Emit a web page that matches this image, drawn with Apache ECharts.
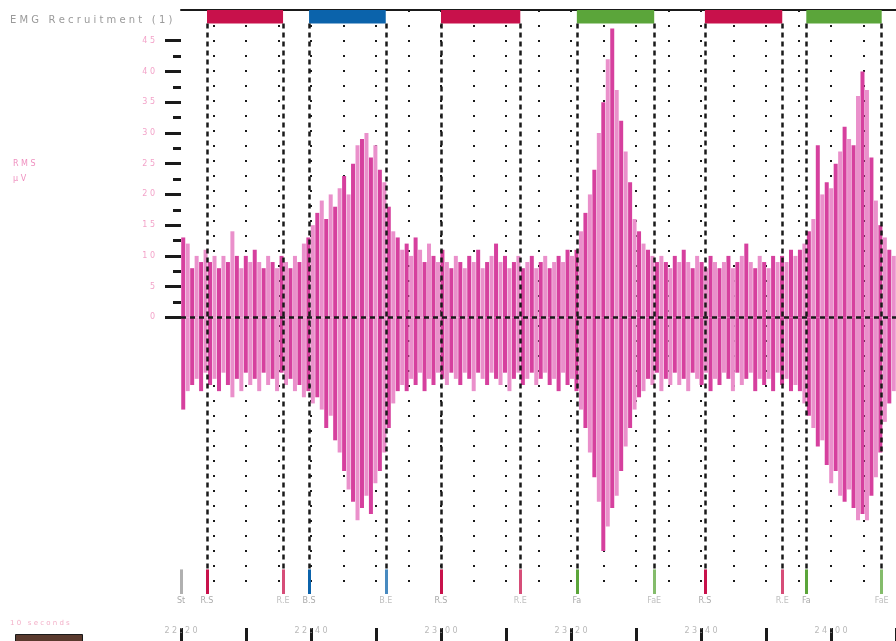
<!DOCTYPE html>
<html lang="en">
<head>
<meta charset="UTF-8">
<title>EMG Recruitment</title>
<style>
  html, body { margin: 0; padding: 0; background: #fff; }
  #chart { width: 896px; height: 641px; }
</style>
</head>
<body>
<div id="chart"></div>
<script src="https://cdn.jsdelivr.net/npm/echarts@6/dist/echarts.min.js"></script>
<script>
// EMG trace, one value per sample across the 110 s recording (uV)
var emgUp = [
  13, 12, 8, 10, 9, 11, 9, 10, 8, 10,
  9, 14, 10, 8, 10, 9, 11, 9, 8, 10,
  9, 8, 10, 9, 8, 10, 9, 12, 13, 15,
  17, 19, 16, 20, 18, 21, 23, 20, 25, 28,
  29, 30, 26, 28, 24, 22, 18, 14, 13, 11,
  12, 10, 13, 11, 9, 12, 10, 9, 11, 9,
  8, 10, 9, 8, 10, 9, 11, 8, 9, 10,
  12, 9, 10, 8, 9, 10, 8, 9, 10, 8,
  9, 10, 8, 9, 10, 9, 11, 10, 11, 14,
  17, 20, 24, 30, 35, 42, 47, 37, 32, 27,
  22, 16, 14, 12, 11, 10, 9, 10, 9, 8,
  10, 9, 11, 9, 8, 10, 9, 8, 10, 9,
  8, 9, 10, 8, 9, 10, 12, 9, 8, 10,
  9, 8, 10, 9, 10, 9, 11, 10, 11, 12,
  14, 16, 28, 20, 22, 21, 25, 27, 31, 29,
  28, 36, 40, 37, 26, 19, 15, 13, 11, 10
];
var emgDown = [
  -15, -12, -11, -10, -12, -9, -11, -10, -12, -9,
  -11, -13, -10, -12, -9, -11, -10, -12, -9, -11,
  -10, -12, -9, -11, -10, -12, -11, -13, -12, -14,
  -13, -15, -18, -16, -20, -22, -25, -28, -30, -33,
  -31, -29, -32, -27, -25, -22, -18, -14, -12, -11,
  -12, -10, -11, -9, -12, -10, -11, -9, -10, -11,
  -9, -10, -11, -9, -10, -12, -9, -10, -11, -9,
  -10, -11, -9, -12, -10, -9, -11, -10, -9, -11,
  -10, -9, -11, -10, -12, -9, -11, -10, -12, -15,
  -18, -22, -26, -30, -38, -34, -31, -29, -25, -21,
  -18, -15, -13, -12, -10, -11, -9, -12, -10, -11,
  -9, -11, -10, -12, -9, -10, -11, -9, -12, -10,
  -11, -9, -10, -12, -9, -11, -10, -9, -12, -10,
  -11, -10, -12, -9, -11, -10, -12, -11, -12, -14,
  -16, -18, -21, -20, -24, -27, -25, -29, -30, -28,
  -31, -33, -32, -33, -29, -26, -22, -17, -14, -12
];

// task blocks (s)
var blockStart = [4.0, 19.7, 40.0, 60.9, 80.6, 96.2];
var blockEnd = [15.7, 31.5, 52.2, 72.8, 92.5, 107.8];
var blockColor = ['#c8114b', '#0b63ab', '#c8114b', '#5ba53a', '#c8114b', '#5ba53a'];
var startLabels = ['R.S', 'B.S', 'R.S', 'Fa', 'R.S', 'Fa'];
var endLabels = ['R.E', 'B.E', 'R.E', 'FaE', 'R.E', 'FaE'];

var yTicks = [0, 5, 10, 15, 20, 25, 30, 35, 40, 45];
var yMinorTicks = [2.5, 7.5, 12.5, 17.5, 22.5, 27.5, 32.5, 37.5, 42.5];
var timeTicks = [0, 20, 40, 60, 80, 100];
var timeLabels = ['22:20', '22:40', '23:00', '23:20', '23:40', '24:00'];

var PINK = '#d6409e';
var PINK_LIGHT = '#ea90cb';
var INK = '#1a1a1a';

var chart = echarts.init(document.getElementById('chart'));

function spaced(s) {
  return String(s).split('').join(' ');
}

var areas = blockStart.map(function (s, i) {
  return [
    { xAxis: s, yAxis: 47.8, itemStyle: { color: blockColor[i] } },
    { xAxis: blockEnd[i], yAxis: 50 }
  ];
});

var dashLines = [];
blockStart.forEach(function (s, i) {
  [s, blockEnd[i]].forEach(function (t) {
    dashLines.push([{ coord: [t, 47.8] }, { coord: [t, -41] }]);
  });
});
dashLines.push([{ coord: [0, 0] }, { coord: [110, 0] }]);

var markers = [[
  { coord: [0, -41], lineStyle: { color: '#b0b0b0' }, label: { formatter: 'St' } },
  { coord: [0, -45] }
]];
blockStart.forEach(function (s, i) {
  markers.push([
    { coord: [s, -41], lineStyle: { color: blockColor[i] }, label: { formatter: startLabels[i] } },
    { coord: [s, -45] }
  ]);
  markers.push([
    { coord: [blockEnd[i], -41], lineStyle: { color: blockColor[i], opacity: 0.75 }, label: { formatter: endLabels[i] } },
    { coord: [blockEnd[i], -45] }
  ]);
});

function shade(dark, light) {
  return function (p) { return p.dataIndex % 2 ? light : dark; };
}

chart.setOption({
  animation: false,
  textStyle: { fontFamily: 'DejaVu Sans' },
  grid: { left: 181, right: 0, top: 10, bottom: 47 },
  xAxis: [{
    type: 'value', min: 0, max: 110, interval: 5, position: 'top',
    axisLine: { onZero: false, lineStyle: { color: INK, width: 2 } },
    axisTick: { show: false },
    axisLabel: { show: false },
    splitLine: {
      show: true, showMinLine: false, showMaxLine: false,
      lineStyle: { color: INK, width: 2, type: [2, 13] }
    }
  }, {
    type: 'category', data: emgUp.map(function (v, i) { return i; }),
    show: false, boundaryGap: true
  }, {
    type: 'value', min: 0, max: 110, interval: 10, position: 'bottom', offset: 34,
    axisLine: { show: false, onZero: false },
    axisTick: { show: true, length: 13, lineStyle: { color: INK, width: 3 } },
    axisLabel: {
      customValues: timeTicks, margin: -1, fontSize: 8, color: '#b8b8b8',
      formatter: function (v) { return spaced(timeLabels[timeTicks.indexOf(v)]); }
    },
    splitLine: { show: false }
  }],
  yAxis: [{
    type: 'value', min: -45, max: 50, interval: 5,
    axisLine: { show: false },
    axisTick: { customValues: yTicks, length: 16, lineStyle: { color: INK, width: 3 } },
    axisLabel: {
      customValues: yTicks, margin: 26, fontSize: 8, color: '#f3a3c9',
      formatter: function (v) { return spaced(v); }
    },
    splitLine: { show: false }
  }, {
    type: 'value', min: -45, max: 50, interval: 5, position: 'left',
    axisLine: { show: false },
    axisTick: { customValues: yMinorTicks, length: 8, lineStyle: { color: INK, width: 3 } },
    axisLabel: { show: false },
    splitLine: { show: false }
  }],
  series: [{
    name: 'emg+', type: 'bar', xAxisIndex: 1, yAxisIndex: 0,
    data: emgUp, barWidth: 4, barGap: '-100%', z: 2,
    itemStyle: { color: shade(PINK, PINK_LIGHT) }
  }, {
    name: 'emg-', type: 'bar', xAxisIndex: 1, yAxisIndex: 0,
    data: emgDown, barWidth: 4, barGap: '-100%', z: 2,
    itemStyle: { color: shade(PINK, PINK_LIGHT) }
  }, {
    name: 'blocks', type: 'line', xAxisIndex: 0, yAxisIndex: 0, data: [], z: 5,
    markArea: { silent: true, label: { show: false }, data: areas },
    markLine: {
      silent: true, symbol: 'none', label: { show: false },
      lineStyle: { color: INK, width: 2.5, type: [5, 4] },
      data: dashLines
    }
  }, {
    name: 'markers', type: 'line', xAxisIndex: 0, yAxisIndex: 0, data: [], z: 6,
    markLine: {
      silent: true, symbol: 'none',
      lineStyle: { width: 3, type: 'solid' },
      label: { show: true, position: 'end', distance: 3, fontSize: 8, color: '#aaa' },
      data: markers
    }
  }],
  graphic: [{
    type: 'text', left: 10, top: 15,
    style: { text: spaced('EMG Recruitment (1)'), fontSize: 10, fill: '#9a9a9a', fontFamily: 'DejaVu Sans' }
  }, {
    type: 'text', left: 13, top: 160,
    style: { text: spaced('RMS'), fontSize: 8, fill: '#ef8fbf', fontFamily: 'DejaVu Sans' }
  }, {
    type: 'text', left: 13, top: 175,
    style: { text: spaced('μV'), fontSize: 8, fill: '#ef8fbf', fontFamily: 'DejaVu Sans' }
  }, {
    type: 'text', left: 10, top: 620,
    style: { text: spaced('10 seconds'), fontSize: 7, fill: '#f3b0c8', fontFamily: 'DejaVu Sans' }
  }, {
    type: 'rect', left: 15, top: 634,
    shape: { width: 67, height: 7 },
    style: { fill: '#5a3a2e', stroke: INK, lineWidth: 1 }
  }]
});
</script>
</body>
</html>
